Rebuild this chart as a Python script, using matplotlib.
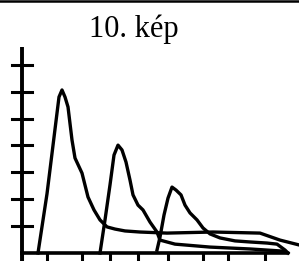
import matplotlib
matplotlib.use("Agg")
import matplotlib.pyplot as plt
import numpy as np

# hand drawn chromatogram, three peaks; x in sketch units, y in tick units
peak1_x = [38, 47, 55, 59, 62, 65, 68, 72, 75, 82, 88, 94, 100, 107, 115, 125, 140, 167, 213, 260, 280, 299]
peak1_y = [0, 2.20, 4.60, 5.80, 6.06, 5.80, 5.43, 4.20, 3.53, 2.97, 2.08, 1.60, 1.23, 0.97,
           0.89, 0.82, 0.78, 0.74, 0.78, 0.74, 0.48, 0.30]

peak2_x = [100, 105, 110, 114, 118, 122, 126, 130, 133, 138, 143, 150, 157, 160, 175, 210, 250, 283, 288]
peak2_y = [0, 1.23, 2.53, 3.64, 4.01, 3.83, 3.38, 2.71, 2.16, 1.78, 1.60, 1.15, 0.78, 0.48, 0.33, 0.22,
           0.15, 0.07, 0]

peak3_x = [157, 160, 164, 168, 172, 176, 181, 185, 190, 197, 203, 210, 220, 235, 250, 267, 277, 285, 288]
peak3_y = [0.11, 0.59, 1.41, 2.04, 2.45, 2.34, 2.16, 1.78, 1.49, 1.23, 0.93, 0.71, 0.56, 0.45, 0.41,
           0.37, 0.33, 0.11, 0]

y_ticks = [1, 2, 3, 4, 5, 6, 7]
x_ticks = [22, 47, 82, 110, 138, 168, 203, 228, 265]
title = "10. kép"

scale = 26.9  # pixels per y unit
def u(py):
    return (253 - py) / scale

fig = plt.figure(figsize=(2.99, 2.61), dpi=100)
ax = fig.add_axes([0, 0, 1, 1])
ax.set_xlim(0, 299)
ax.set_ylim(u(261), u(0))
ax.axis('off')

# frame line on top
ax.plot([0, 299], [u(1.2), u(1.2)], color='black', lw=1.8)

# axes
ax.plot([22, 22], [u(261), u(47)], color='black', lw=2.8, solid_capstyle='butt')
ax.plot([20, 287], [0, 0], color='black', lw=2.6, solid_capstyle='butt')
for t in y_ticks:
    ax.plot([12, 32], [t, t], color='black', lw=2.2)
for t in x_ticks:
    ax.plot([t, t], [0, u(261)], color='black', lw=2.2)

# peaks
for xs, ys in [(peak1_x, peak1_y), (peak2_x, peak2_y), (peak3_x, peak3_y)]:
    ax.plot(xs, ys, color='black', lw=2.4, solid_joinstyle='round')

ax.text(134, u(37), title, ha='center', va='baseline', fontsize=22, family='Liberation Serif')

fig.savefig("out.png", dpi=100)
